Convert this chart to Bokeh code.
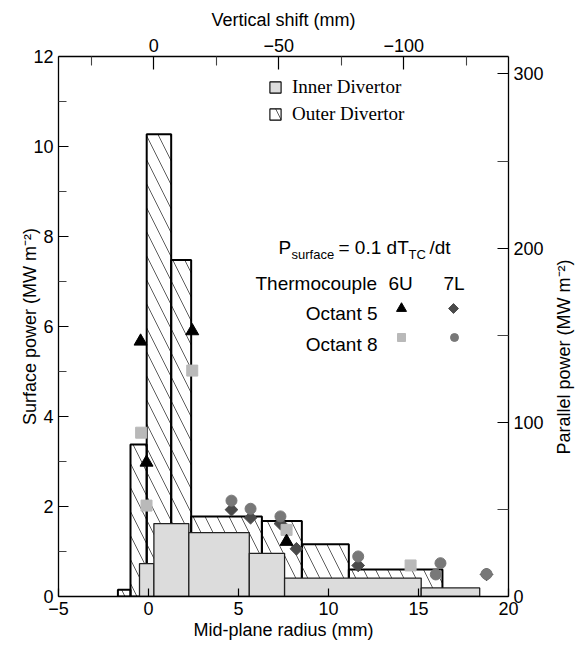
import math
from bokeh.plotting import figure
from bokeh.models import (Range1d, LinearAxis, FixedTicker, Label, Legend, LegendItem,
                          CustomJSTickFormatter)
from bokeh.embed import file_html
from bokeh.resources import INLINE

# ---------------- data ----------------
# Outer divertor (hatched) bins: edges (mm) and surface power (MW m-2)
outer_left = [-1.7, -1.0, -0.1, 1.26, 2.37, 6.3, 8.52, 11.13]
outer_right = [-1.0, -0.1, 1.26, 2.37, 6.3, 8.52, 11.13, 16.33]
outer_power = [0.15, 3.38, 10.27, 7.48, 1.78, 1.68, 1.16, 0.60]

# Inner divertor (grey) bins
inner_left = [-0.5, 0.3, 2.24, 5.6, 7.56, 15.15]
inner_right = [0.3, 2.24, 5.6, 7.56, 15.15, 18.4]
inner_power = [0.73, 1.62, 1.42, 0.96, 0.41, 0.19]

# Thermocouple points
oct5_6u_x = [-0.44, -0.11, 2.43, 7.67]
oct5_6u_y = [5.67, 2.98, 5.90, 1.22]
oct8_6u_x = [-0.41, -0.11, 2.43, 7.67, 14.56]
oct8_6u_y = [3.64, 2.02, 5.02, 1.48, 0.69]
oct5_7l_x = [4.61, 5.67, 7.33, 8.22, 11.65, 18.78]
oct5_7l_y = [1.93, 1.75, 1.62, 1.06, 0.69, 0.49]
oct8_7l_x = [4.61, 5.67, 7.33, 11.65, 15.96, 16.22, 18.78]
oct8_7l_y = [2.13, 1.95, 1.78, 0.89, 0.49, 0.74, 0.50]

x_ticks = [-5, 0, 5, 10, 15, 20]
y_ticks = [0, 2, 4, 6, 8, 10, 12]
y_minor = [1, 3, 5, 7, 9, 11]
top_ticks = [0, -50, -100]
top_minor = [25, -25, -75, -125]
right_ticks = [0, 100, 200, 300]
right_minor = [50, 150, 250]

# ---------------- layout ----------------
W, H = 583, 647
FL, FR, FT, FB = 58, 508, 56, 596
X0, X1 = -5, 20
Y0, Y1 = 0, 12


def dx(px):
    return X0 + (px - FL) / (FR - FL) * (X1 - X0)


def dy(py):
    return Y0 + (FB - py) / (FB - FT) * (Y1 - Y0)


p = figure(width=W, height=H, x_range=Range1d(X0, X1), y_range=Range1d(Y0, Y1),
           output_backend="svg", toolbar_location=None,
           x_axis_location=None, y_axis_location=None,
           min_border_left=FL, min_border_right=W - FR,
           min_border_top=FT, min_border_bottom=H - FB)
p.grid.visible = False
p.outline_line_color = None
p.background_fill_color = "white"
p.border_fill_color = "white"

p.extra_x_ranges = {"shift": Range1d(38.1, -141.9)}
p.extra_y_ranges = {"par": Range1d(0, 310)}

fmt_code = "return tick < 0 ? '\u2212' + Math.abs(tick) : String(tick);"
SANS = "Liberation Sans"


def style(ax, ticks, minor, label, tin=10, minin=8, standoff=4):
    ax.ticker = FixedTicker(ticks=ticks, minor_ticks=minor)
    ax.formatter = CustomJSTickFormatter(code=fmt_code)
    ax.major_tick_in = tin
    ax.major_tick_out = 0
    ax.minor_tick_in = minin
    ax.minor_tick_out = 0
    ax.axis_line_color = "black"
    ax.axis_line_width = 1.3
    ax.major_tick_line_color = "black"
    ax.major_tick_line_width = 1.2
    ax.minor_tick_line_color = "#444444"
    ax.minor_tick_line_width = 1.1
    ax.major_label_text_font = SANS
    ax.major_label_text_font_size = "18px"
    ax.major_label_text_color = "black"
    ax.major_label_standoff = 5
    ax.axis_label = label
    ax.axis_label_text_font = SANS
    ax.axis_label_text_font_size = "18px"
    ax.axis_label_text_font_style = "normal"
    ax.axis_label_text_color = "black"
    ax.axis_label_standoff = standoff


ax_b = LinearAxis()
style(ax_b, x_ticks, [], "Mid-plane radius (mm)", tin=8, standoff=2)
p.add_layout(ax_b, "below")

ax_l = LinearAxis()
style(ax_l, y_ticks, y_minor, "Surface power (MW m\u207b\u00b2)", standoff=-10)
p.add_layout(ax_l, "left")

ax_t = LinearAxis(x_range_name="shift")
style(ax_t, top_ticks, top_minor, "Vertical shift (mm)", tin=13, minin=9, standoff=6)
p.add_layout(ax_t, "above")

ax_r = LinearAxis(y_range_name="par")
style(ax_r, right_ticks, right_minor, None, tin=11, minin=11)
p.add_layout(ax_r, "right")

# right axis title, reading bottom-to-top as in the original
p.add_layout(Label(x=17, y=242, x_units="screen", y_units="screen",
                   text="Parallel  power (MW m\u207b\u00b2)", angle=math.pi / 2,
                   text_font=SANS, text_font_size="18px", text_align="center",
                   text_baseline="middle", text_color="black"), "right")

# ---------------- bars ----------------
HATCH = dict(hatch_pattern="\\", hatch_color="#333333", hatch_weight=0.8, hatch_scale=24)
outer = p.quad(left=outer_left, right=outer_right, bottom=0, top=outer_power,
               fill_color="white", fill_alpha=0.0, line_color="black", line_width=2, **HATCH)
inner = p.quad(left=inner_left, right=inner_right, bottom=0, top=inner_power,
               fill_color="#dcdcdc", line_color="#222222", line_width=1.3)

# legend key glyphs (drawn outside the visible range, only shown in the legend)
key_inner = p.quad(left=[X1 + 50], right=[X1 + 51], bottom=[0], top=[1],
                   fill_color="#dcdcdc", line_color="black", line_width=1.1)
key_outer = p.quad(left=[X1 + 50], right=[X1 + 51], bottom=[0], top=[1],
                   fill_color="white", fill_alpha=0.0, line_color="black", line_width=1.1, **HATCH)

# ---------------- points ----------------
p.scatter(oct5_7l_x, oct5_7l_y, marker="square", angle=math.pi / 4, size=9, color="#4a4a4a")
p.scatter(oct8_7l_x, oct8_7l_y, marker="circle", size=11, color="#787878")
p.scatter(oct8_6u_x, oct8_6u_y, marker="square", size=11, color="#b9b9b9")
p.scatter(oct5_6u_x, oct5_6u_y, marker="triangle", size=13, color="black")

# ---------------- legend ----------------
leg = Legend(items=[LegendItem(label="Inner Divertor", renderers=[key_inner]),
                    LegendItem(label="Outer Divertor", renderers=[key_outer])],
             location=(210, 471), orientation="vertical",
             glyph_width=14, glyph_height=14, label_standoff=10,
             spacing=5, padding=0, margin=0,
             label_text_font="Liberation Serif", label_text_font_size="19px",
             label_text_color="black",
             border_line_alpha=0, background_fill_alpha=0)
p.add_layout(leg)


# ---------------- annotation texts ----------------
def lab(text, px, py, size="19px", font=SANS, align="left"):
    p.add_layout(Label(x=dx(px), y=dy(py), text=text, text_font=font,
                       text_font_size=size, text_align=align,
                       text_baseline="alphabetic", text_color="black"))


lab("P", 278, 247)
lab("surface", 291, 254, size="13px")
lab("= 0.1 dT", 338, 247)
lab("TC", 408, 254, size="13px")
lab("/dt", 429, 247)
lab("Thermocouple", 255, 283)
lab("6U", 388, 283)
lab("7L", 443, 283)
lab("Octant 5", 377, 313, align="right")
lab("Octant 8", 377, 344, align="right")
lab("JG00.133/3c", 447, 50, size="9.5px")

p.scatter([dx(401)], [dy(308)], marker="triangle", size=10, color="black")
p.scatter([dx(453)], [dy(308)], marker="square", angle=math.pi / 4, size=7, color="#4a4a4a")
p.scatter([dx(401)], [dy(337)], marker="square", size=8, color="#b9b9b9")
p.scatter([dx(454)], [dy(337)], marker="circle", size=8, color="#787878")

open("out.html", "w").write(file_html(p, INLINE))
